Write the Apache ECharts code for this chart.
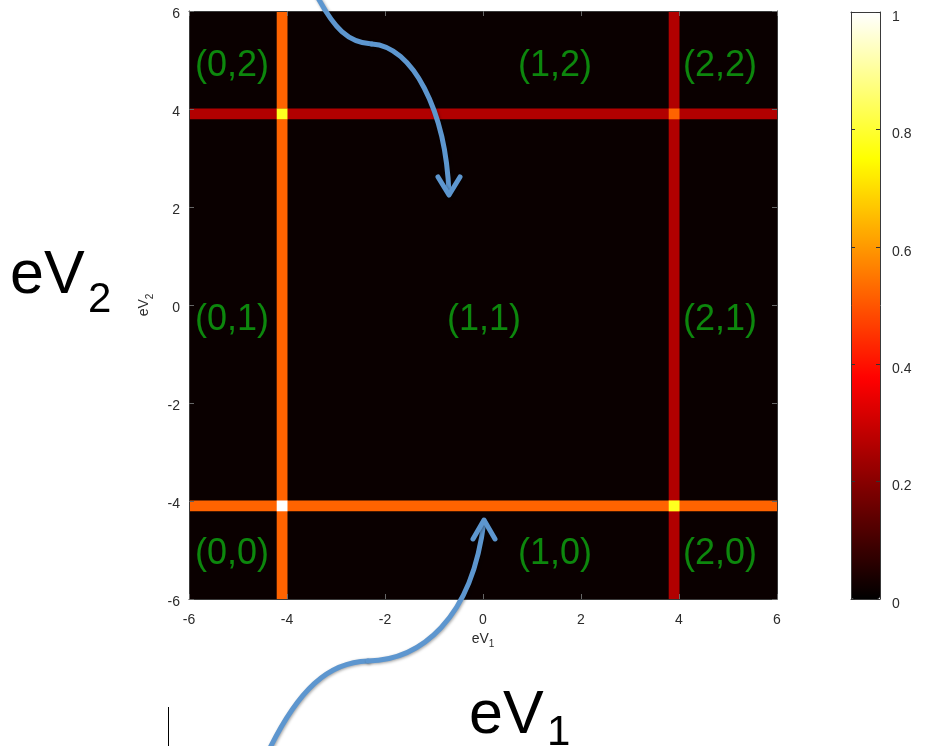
<!DOCTYPE html>
<html>
<head>
<meta charset="utf-8">
<script src="https://cdn.jsdelivr.net/npm/echarts@6/dist/echarts.min.js"></script>
<style>
  html, body { margin: 0; padding: 0; background: #fff; }
  #chart { width: 932px; height: 746px; }
</style>
</head>
<body>
<div id="chart"></div>
<script>
// Bias positions (V) and normalised heights of the conductance ridges
const ridgeV1 = [-4.1, 3.9];          // vertical ridges, along eV1
const ridgeV1Level = [0.52, 0.26];
const ridgeV2 = [-4.1, 3.9];          // horizontal ridges, along eV2
const ridgeV2Level = [0.52, 0.26];
const ridgeWidth = 0.22;              // ridge width in V
const baseLevel = 0.015;              // level between ridges

// Axis ranges and ticks
const biasRange = [-6, 6];
const biasStep = 2;
const colorRange = [0, 1];
const colorStep = 0.2;

// Charge-state labels of the stability regions
const stateLabels = ['(0,2)', '(1,2)', '(2,2)', '(0,1)', '(1,1)', '(2,1)', '(0,0)', '(1,0)', '(2,0)'];

// "hot" colormap sampled at 9 evenly spaced stops
const hotStops = ['#000000', '#550000', '#aa0000', '#ff0000', '#ff5500',
                  '#ffaa00', '#ffff00', '#ffff80', '#ffffff'];

// Rectangles [x0, x1, y0, y1, level] built from the ridge arrays
const half = ridgeWidth / 2;
const cells = [[biasRange[0], biasRange[1], biasRange[0], biasRange[1], baseLevel]];
ridgeV1.forEach((v, i) => cells.push([v - half, v + half, biasRange[0], biasRange[1], ridgeV1Level[i]]));
ridgeV2.forEach((v, j) => cells.push([biasRange[0], biasRange[1], v - half, v + half, ridgeV2Level[j]]));
ridgeV1.forEach((vx, i) => ridgeV2.forEach((vy, j) => {
  cells.push([vx - half, vx + half, vy - half, vy + half, Math.min(1, ridgeV1Level[i] + ridgeV2Level[j])]);
}));

const chart = echarts.init(document.getElementById('chart'), null, { renderer: 'canvas' });

const FONT = '"Liberation Sans", Arial, Helvetica, sans-serif';
const tickColor = '#2b2b2b';
const subName = (base, sub) => '{a|' + base + '}{b|' + sub + '}';
const subRich = {
  a: { fontSize: 14, color: tickColor, fontFamily: FONT },
  b: { fontSize: 10, color: tickColor, fontFamily: FONT, padding: [11, 0, 0, 0] }
};

function mainAxis(extra) {
  return Object.assign({
    type: 'value', gridIndex: 0,
    min: biasRange[0], max: biasRange[1], interval: biasStep,
    z: 5,
    axisLine: { show: true, onZero: false, lineStyle: { color: '#3a3a3a', width: 1 } },
    axisTick: { show: true, inside: true, length: 5, lineStyle: { color: '#666' } },
    axisLabel: { show: false },
    splitLine: { show: false }
  }, extra);
}
function barAxis(extra) {
  return Object.assign({
    type: 'value', gridIndex: 1,
    min: colorRange[0], max: colorRange[1], interval: colorStep,
    z: 5,
    axisLine: { show: true, onZero: false, lineStyle: { color: '#3a3a3a', width: 1 } },
    axisTick: { show: false },
    axisLabel: { show: false },
    splitLine: { show: false }
  }, extra);
}

// Annotation graphics: big axis captions, region labels, arrows
const bigText = (t, x, y, size) => ({
  type: 'text', x: x, y: y, z: 10,
  style: { text: t, fontSize: size, fontFamily: FONT, fill: '#000', align: 'left', verticalAlign: 'middle' }
});
const graphics = [
  bigText('eV', 10, 276, 61),
  bigText('2', 88, 300, 42),
  bigText('eV', 469, 716, 61),
  bigText('1', 547, 733, 42),
  { type: 'line', z: 10, shape: { x1: 168.5, y1: 707, x2: 168.5, y2: 746 },
    style: { stroke: '#000', lineWidth: 1 } }
];

const labelCenters = [[232, 66], [555, 66], [720, 66],
                      [232, 320], [484, 320], [720, 320],
                      [232, 554], [555, 554], [720, 554]];
stateLabels.forEach((t, i) => {
  graphics.push({
    type: 'text', x: labelCenters[i][0], y: labelCenters[i][1], z: 10,
    style: { text: t, fontSize: 36, fontFamily: FONT, fill: '#0d870d',
             align: 'center', verticalAlign: 'middle' }
  });
});

const arrowStyle = {
  fill: null, stroke: '#5d96cf', lineWidth: 5, lineCap: 'round', lineJoin: 'round',
  shadowBlur: 3, shadowColor: 'rgba(0,0,0,0.35)', shadowOffsetX: 1, shadowOffsetY: 1
};
const curve = (p0, c1, c2, p1) => ({
  type: 'bezierCurve', z: 12,
  shape: { x1: p0[0], y1: p0[1], cpx1: c1[0], cpy1: c1[1], cpx2: c2[0], cpy2: c2[1], x2: p1[0], y2: p1[1] },
  style: arrowStyle
});
const head = (pts) => ({ type: 'polyline', z: 12, shape: { points: pts }, style: arrowStyle });
graphics.push(
  curve([317, -4], [334, 28], [348, 43], [372, 44]),
  curve([372, 44], [412, 46], [446, 110], [449, 194]),
  head([[438, 177], [449, 195], [460, 177]]),
  curve([268, 752], [298, 690], [328, 662], [368, 661]),
  curve([368, 661], [420, 660], [472, 620], [484, 521]),
  head([[473, 539], [484, 520], [495, 539]])
);

const option = {
  animation: false,
  backgroundColor: '#ffffff',
  grid: [
    { left: 189, top: 11, width: 588, height: 588 },
    { left: 851, top: 12, width: 29, height: 587 }
  ],
  xAxis: [
    mainAxis({
      position: 'bottom',
      axisLabel: { show: true, margin: 14, fontSize: 14, color: tickColor, fontFamily: FONT },
      name: subName('eV', '1'), nameLocation: 'middle', nameGap: 28,
      nameTextStyle: { rich: subRich }
    }),
    mainAxis({ position: 'top' }),
    barAxis({ position: 'bottom' }),
    barAxis({ position: 'top' })
  ],
  yAxis: [
    mainAxis({
      position: 'left',
      axisLabel: { show: true, margin: 9, fontSize: 14, color: tickColor, fontFamily: FONT,
                   verticalAlign: 'top', lineHeight: 6 },
      name: subName('eV', '2'), nameLocation: 'middle', nameGap: 34, nameRotate: 90,
      nameTextStyle: { rich: subRich }
    }),
    mainAxis({ position: 'right' }),
    barAxis({
      position: 'right',
      axisTick: { show: true, inside: true, length: 4, lineStyle: { color: '#333' } },
      axisLabel: { show: true, margin: 12, fontSize: 14, color: tickColor, fontFamily: FONT,
                   verticalAlign: 'top', lineHeight: 10 }
    }),
    barAxis({
      position: 'left',
      axisTick: { show: true, inside: true, length: 4, lineStyle: { color: '#333' } }
    })
  ],
  visualMap: {
    type: 'continuous',
    min: colorRange[0], max: colorRange[1],
    dimension: 4, seriesIndex: 0,
    orient: 'vertical',
    left: 851, top: 12,
    itemWidth: 29, itemHeight: 587,
    padding: 0,
    calculable: false, hoverLink: false,
    text: null,
    inRange: { color: hotStops }
  },
  series: [{
    type: 'custom',
    coordinateSystem: 'cartesian2d',
    xAxisIndex: 0, yAxisIndex: 0,
    dimensions: ['x0', 'x1', 'y0', 'y1', 'level'],
    encode: { x: [0, 1], y: [2, 3] },
    clip: true,
    silent: true,
    renderItem: function (params, api) {
      const p0 = api.coord([api.value(0), api.value(3)]);
      const p1 = api.coord([api.value(1), api.value(2)]);
      return {
        type: 'rect',
        shape: { x: p0[0], y: p0[1], width: p1[0] - p0[0], height: p1[1] - p0[1] },
        style: { fill: api.visual('color') }
      };
    },
    data: cells
  }],
  graphic: graphics
};

chart.setOption(option);
</script>
</body>
</html>
